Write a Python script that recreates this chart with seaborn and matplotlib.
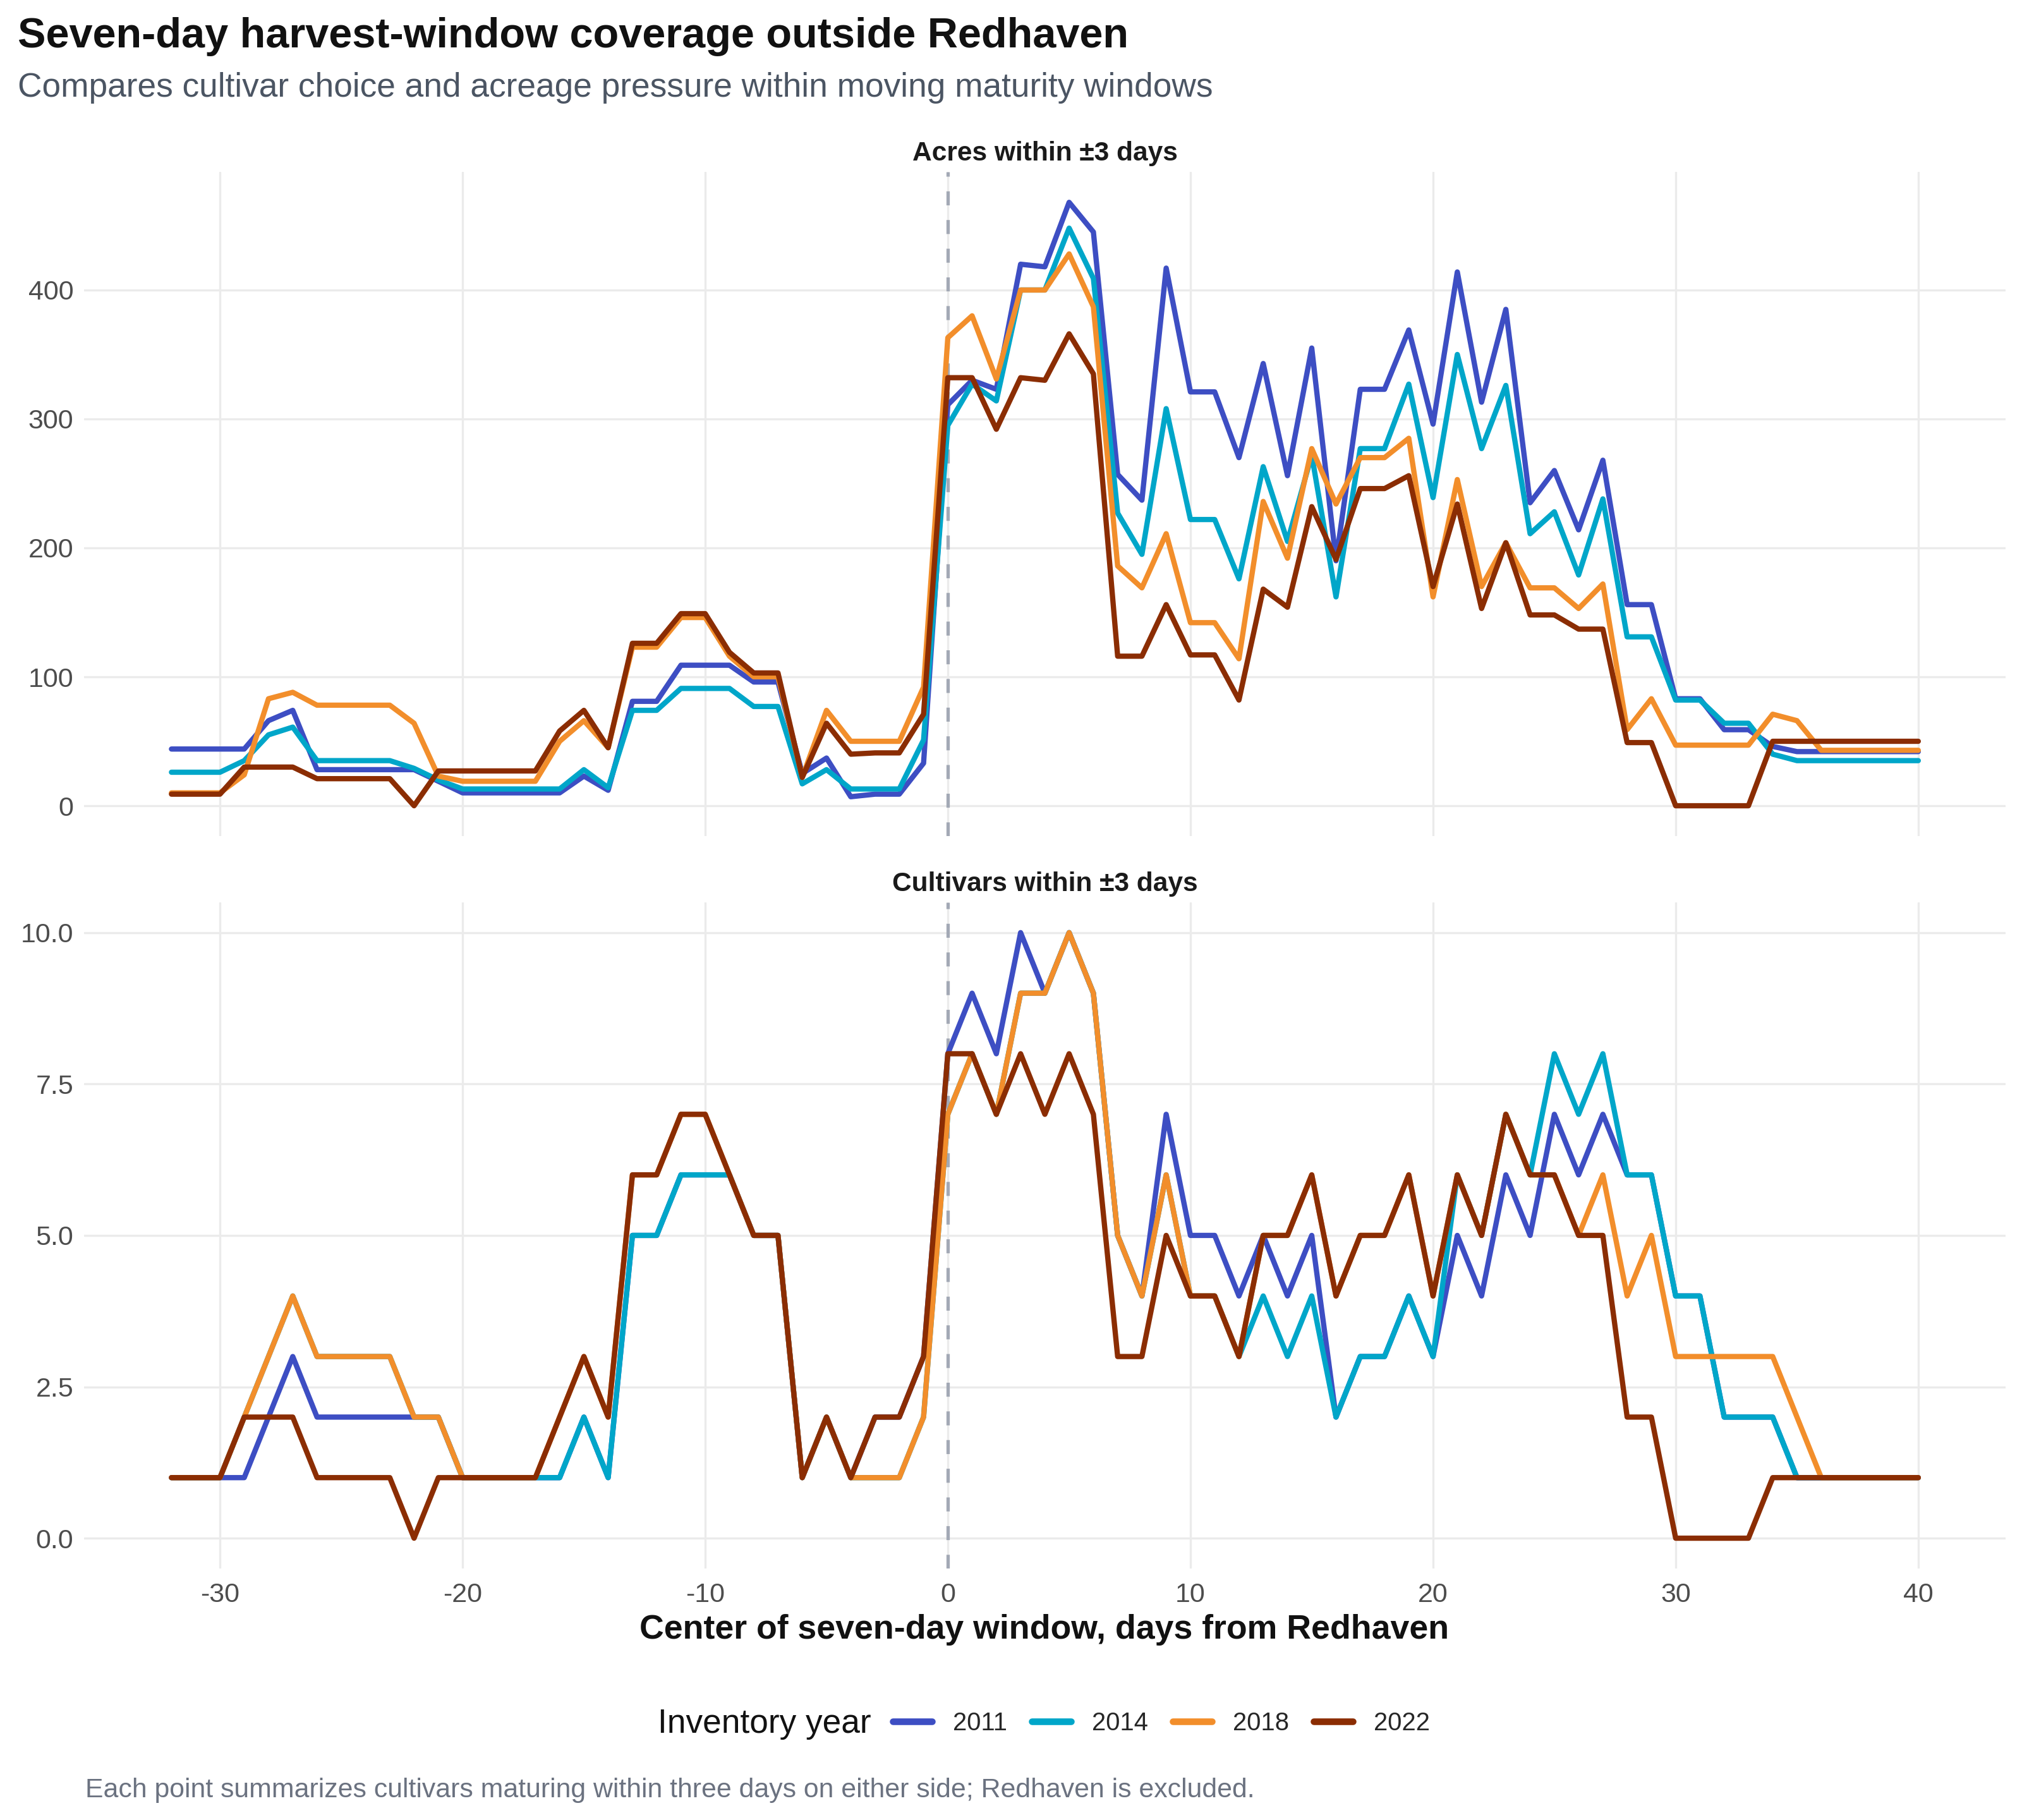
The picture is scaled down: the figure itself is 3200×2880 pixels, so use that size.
import pandas as pd
import matplotlib.pyplot as plt
import matplotlib.ticker as mticker
import seaborn as sns

sns.set_theme(style="whitegrid")
plt.rcParams['font.family'] = ['Liberation Sans', 'DejaVu Sans']
plt.rcParams['axes.unicode_minus'] = False

# data (days -32 .. 40)
days = list(range(-32, 41))
years = ["2011", "2014", "2018", "2022"]

acres_2011 = [44, 44, 44, 44, 66, 74, 28, 28, 28, 28,
              28, 19, 10, 10, 10, 10, 10, 23, 12, 81,
              81, 109, 109, 109, 96, 96, 25, 37, 7, 9,
              9, 33,
              311, 330, 323, 420, 418, 468, 445, 257, 237, 417,
              321, 321, 270, 343, 256, 355, 190, 323, 323, 369,
              296, 414, 313, 385, 235, 260, 214, 268, 156, 156,
              83, 83, 59, 59, 46, 42, 42, 42, 42, 42, 42]
acres_2014 = [26, 26, 26, 35, 55, 61, 35, 35, 35, 35,
              29, 20, 13, 13, 13, 13, 13, 28, 14, 74,
              74, 91, 91, 91, 77, 77, 17, 28, 13, 13,
              13, 51,
              295, 327, 314, 400, 400, 448, 409, 227, 195, 308,
              222, 222, 176, 263, 205, 272, 162, 277, 277, 327,
              239, 350, 277, 326, 211, 228, 179, 238, 131, 131,
              82, 82, 64, 64, 40, 35, 35, 35, 35, 35, 35]
acres_2018 = [10, 10, 10, 24, 83, 88, 78, 78, 78, 78,
              64, 23, 19, 19, 19, 19, 50, 66, 45, 123,
              123, 146, 146, 116, 100, 100, 22, 74, 50, 50,
              50, 92,
              363, 380, 331, 400, 400, 428, 387, 186, 169, 211,
              142, 142, 114, 236, 192, 277, 234, 270, 270, 285,
              162, 253, 170, 204, 169, 169, 153, 172, 59, 83,
              47, 47, 47, 47, 71, 66, 43, 43, 43, 43, 43]
acres_2022 = [9, 9, 9, 30, 30, 30, 21, 21, 21, 21,
              0, 27, 27, 27, 27, 27, 58, 74, 45, 126,
              126, 149, 149, 119, 103, 103, 22, 64, 40, 41,
              41, 71,
              332, 332, 292, 332, 330, 366, 335, 116, 116, 156,
              117, 117, 82, 168, 154, 232, 191, 246, 246, 256,
              170, 234, 153, 204, 148, 148, 137, 137, 49, 49,
              0, 0, 0, 0, 50, 50, 50, 50, 50, 50, 50]

cult_2011 = [1, 1, 1, 1, 2, 3, 2, 2, 2, 2,
             2, 2, 1, 1, 1, 1, 1, 2, 1, 5,
             5, 6, 6, 6, 5, 5, 1, 2, 1, 2,
             2, 3,
             8, 9, 8, 10, 9, 10, 9, 5, 4, 7,
             5, 5, 4, 5, 4, 5, 2, 3, 3, 4,
             3, 5, 4, 6, 5, 7, 6, 7, 6, 6,
             4, 4, 2, 2, 2, 1, 1, 1, 1, 1, 1]
cult_2014 = [1, 1, 1, 2, 3, 4, 3, 3, 3, 3,
             2, 2, 1, 1, 1, 1, 1, 2, 1, 5,
             5, 6, 6, 6, 5, 5, 1, 2, 1, 1,
             1, 2,
             7, 8, 7, 9, 9, 10, 9, 5, 4, 6,
             4, 4, 3, 4, 3, 4, 2, 3, 3, 4,
             3, 6, 5, 7, 6, 8, 7, 8, 6, 6,
             4, 4, 2, 2, 2, 1, 1, 1, 1, 1, 1]
cult_2018 = [1, 1, 1, 2, 3, 4, 3, 3, 3, 3,
             2, 2, 1, 1, 1, 1, 2, 3, 2, 6,
             6, 7, 7, 6, 5, 5, 1, 2, 1, 1,
             1, 2,
             7, 8, 7, 9, 9, 10, 9, 5, 4, 6,
             4, 4, 3, 5, 5, 6, 4, 5, 5, 6,
             4, 6, 5, 7, 6, 6, 5, 6, 4, 5,
             3, 3, 3, 3, 3, 2, 1, 1, 1, 1, 1]
cult_2022 = [1, 1, 1, 2, 2, 2, 1, 1, 1, 1,
             0, 1, 1, 1, 1, 1, 2, 3, 2, 6,
             6, 7, 7, 6, 5, 5, 1, 2, 1, 2,
             2, 3,
             8, 8, 7, 8, 7, 8, 7, 3, 3, 5,
             4, 4, 3, 5, 5, 6, 4, 5, 5, 6,
             4, 6, 5, 7, 6, 6, 5, 5, 2, 2,
             0, 0, 0, 0, 1, 1, 1, 1, 1, 1, 1]

acres = {"2011": acres_2011, "2014": acres_2014, "2018": acres_2018, "2022": acres_2022}
cults = {"2011": cult_2011, "2014": cult_2014, "2018": cult_2018, "2022": cult_2022}
colors = {"2011": "#3D4EC3", "2014": "#00A6C9", "2018": "#F28E2B", "2022": "#8B2D03"}

df = pd.concat([pd.DataFrame({"day": days, "year": y, "acres": acres[y], "cultivars": cults[y]})
                for y in years], ignore_index=True)

fig = plt.figure(figsize=(16, 14.4), dpi=200)
fig.patch.set_facecolor("white")
ax1 = fig.add_axes([0.0416, 0.5407, 0.9503, 0.3647])
ax2 = fig.add_axes([0.0416, 0.1382, 0.9503, 0.3660])

panels = [(ax1, "acres", "Acres within ±3 days", (-23.4, 491.4), [0, 100, 200, 300, 400]),
          (ax2, "cultivars", "Cultivars within ±3 days", (-0.5, 10.5), [0, 2.5, 5, 7.5, 10])]

for ax, col, strip, ylim, yt in panels:
    sns.lineplot(data=df, x="day", y=col, hue="year", hue_order=years, palette=colors,
                 linewidth=3.0, estimator=None, ax=ax, legend=(ax is ax1))
    # Redhaven reference line
    ax.axvline(0, color="#A3A9B5", lw=1.9, dashes=(4.2, 4.4), zorder=1.5)
    ax.set_facecolor("white")
    ax.set_xlim(-35.6, 43.6)
    ax.set_ylim(*ylim)
    ax.set_xticks(range(-30, 41, 10))
    ax.set_yticks(yt)
    ax.grid(True, color="#EBEBEB", linewidth=1.2)
    for s in ax.spines.values():
        s.set_visible(False)
    ax.tick_params(axis="both", length=0, labelsize=15.5, labelcolor="#4D4D4D")
    ax.tick_params(axis="y", pad=6)
    ax.tick_params(axis="x", pad=8)
    ax.set_xlabel("")
    ax.set_ylabel("")
    ax.set_title(strip, fontsize=15.3, fontweight="bold", color="#1A1A1A", pad=6.5)

ax1.tick_params(labelbottom=False)
ax2.yaxis.set_major_formatter(mticker.FormatStrFormatter("%.1f"))

handles, labels = ax1.get_legend_handles_labels()
ax1.get_legend().remove()
for h in handles:
    h.set_linewidth(3.8)

fig.text(0.0088, 0.974, "Seven-day harvest-window coverage outside Redhaven",
         fontsize=24, fontweight="bold", color="#111111", va="baseline")
fig.text(0.0088, 0.947, "Compares cultivar choice and acreage pressure within moving maturity windows",
         fontsize=19.2, color="#4B5563", va="baseline")
fig.text(0.5165, 0.0997, "Center of seven-day window, days from Redhaven",
         fontsize=19.3, fontweight="bold", color="#111111", ha="center", va="baseline")

fig.text(0.3253, 0.0479, "Inventory year", fontsize=19.2, color="#111111", va="baseline")
fig.legend(handles, labels, loc="center left", bbox_to_anchor=(0.4416, 0.0531), ncol=4,
           frameon=False, fontsize=14.4, handlelength=1.55, handletextpad=0.83,
           columnspacing=0.97, borderpad=0, borderaxespad=0)

fig.text(0.0422, 0.0125,
         "Each point summarizes cultivars maturing within three days on either side; Redhaven is excluded.",
         fontsize=15.4, color="#6B7280", va="baseline")

fig.savefig("out.png", dpi=200)
